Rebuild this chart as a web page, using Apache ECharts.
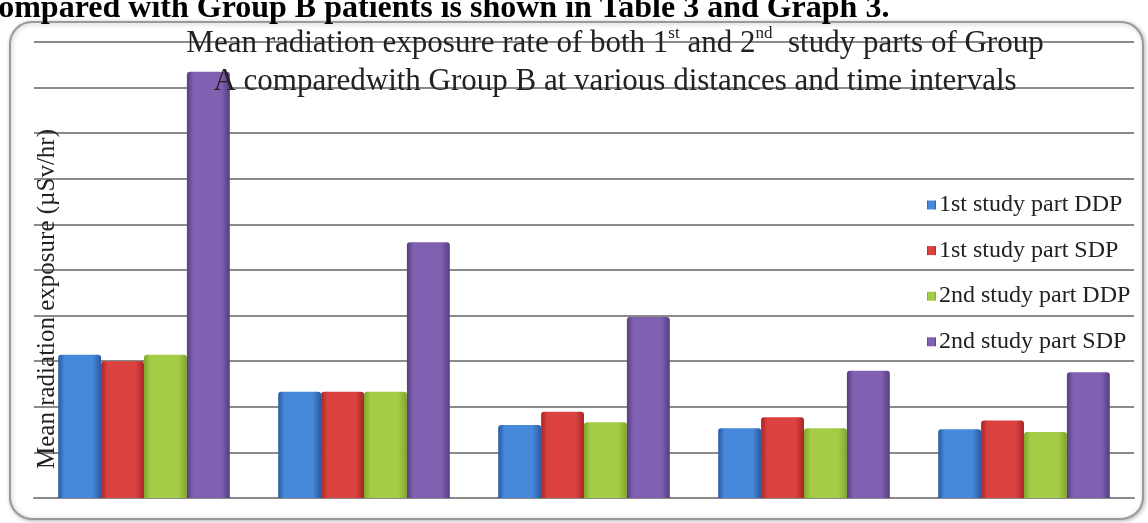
<!DOCTYPE html>
<html>
<head>
<meta charset="utf-8">
<script src="https://cdn.jsdelivr.net/npm/echarts@6/dist/echarts.min.js"></script>
<style>
	html, body { margin: 0; padding: 0; background: #fff; }
	#chart { width: 1148px; height: 523px; }
</style>
</head>
<body>
<div id="chart"></div>
<script>
// distance / time groups (no labels shown on the original axis)
var groups = ['1', '2', '3', '4', '5'];
var seriesNames = ['1st study part DDP', '1st study part SDP', '2nd study part DDP', '2nd study part SDP'];
// values read off in gridline units (axis has no tick labels)
var firstDDP = [3.14, 2.33, 1.60, 1.53, 1.51];
var firstSDP = [3.00, 2.33, 1.89, 1.77, 1.70];
var secondDDP = [3.14, 2.33, 1.66, 1.53, 1.45];
var secondSDP = [9.35, 5.61, 3.97, 2.79, 2.76];

// edge / middle colours for the bevel look
var barColors = [
	['#2a59a0', '#4689db'],
	['#a82626', '#db4240'],
	['#7fa62a', '#a5cc46'],
	['#573d80', '#8060b0']
];

function grad(c) {
	return new echarts.graphic.LinearGradient(0, 0, 1, 0, [
		{offset: 0, color: c[0]},
		{offset: 0.15, color: c[1]},
		{offset: 0.8, color: c[1]},
		{offset: 1, color: c[0]}
	]);
}

var allData = [firstDDP, firstSDP, secondDDP, secondSDP];
var series = [];
for (var i = 0; i < seriesNames.length; i++) {
	series.push({
		name: seriesNames[i],
		type: 'bar',
		data: allData[i],
		barGap: '0%',
		barCategoryGap: '22%',
		itemStyle: {
			color: grad(barColors[i]),
			borderRadius: [3, 3, 0, 0]
		},
		emphasis: { disabled: true },
		animation: false
	});
}

var myChart = echarts.init(document.getElementById('chart'));
var option = {
	backgroundColor: '#fff',
	textStyle: { fontFamily: 'Liberation Serif' },
	color: barColors.map(function(c) { return c[1]; }),
	title: {
		text: 'Mean radiation exposure rate of both 1{sup|st} and 2{sup|nd}  study parts of Group\nA comparedwith Group B at various distances and time intervals',
		left: 610,
		top: 20,
		textAlign: 'center',
		textStyle: {
			fontFamily: 'Liberation Serif',
			fontWeight: 'normal',
			fontSize: 31,
			color: '#222',
			lineHeight: 38,
			rich: {
				sup: { fontSize: 17, verticalAlign: 'top', padding: [0, 0, 13, 0], color: '#222', fontFamily: 'Liberation Serif' }
			}
		}
	},
	legend: {
		orient: 'vertical',
		left: 922,
		top: 188,
		itemWidth: 9,
		itemHeight: 9,
		itemGap: 21.6,
		icon: 'rect',
		data: seriesNames,
		textStyle: { fontFamily: 'Liberation Serif', fontSize: 24, color: '#222', lineHeight: 24, padding: [0, 0, 0, -2] }
	},
	grid: { left: 34, right: 14, top: 42, bottom: 25 },
	xAxis: {
		type: 'category',
		data: groups,
		axisLine: { lineStyle: { color: '#8a8a8a', width: 2 } },
		axisTick: { show: false },
		axisLabel: { show: false }
	},
	yAxis: {
		type: 'value',
		min: 0,
		max: 10,
		interval: 1,
		axisLine: { show: false },
		axisTick: { show: false },
		axisLabel: { show: false },
		splitLine: { lineStyle: { color: '#8a8a8a', width: 2 } }
	},
	graphic: [
		{
			type: 'rect',
			z: -10,
			shape: { x: 10, y: 22, width: 1133, height: 497, r: 22 },
			style: { fill: '#fff', stroke: '#9a9a9a', lineWidth: 2, shadowBlur: 4, shadowColor: 'rgba(0,0,0,0.25)', shadowOffsetX: 1, shadowOffsetY: 1 }
		},
		{
			type: 'text',
			z: 10,
			style: {
				text: 'compared with Group B patients is shown in Table 3 and Graph 3.',
				x: -16,
				y: 25,
				textVerticalAlign: 'bottom',
				font: 'bold 32px "Liberation Serif"',
				fill: '#000'
			}
		},
		{
			type: 'text',
			z: 10,
			rotation: Math.PI / 2,
			x: 47,
			y: 299,
			style: {
				text: 'Mean radiation exposure (µSv/hr)',
				textAlign: 'center',
				textVerticalAlign: 'middle',
				font: '25px "Liberation Serif"',
				fill: '#222'
			}
		}
	],
	series: series
};
myChart.setOption(option);
window.addEventListener('resize', function() {
	myChart.resize();
});
</script>
</body>
</html>
